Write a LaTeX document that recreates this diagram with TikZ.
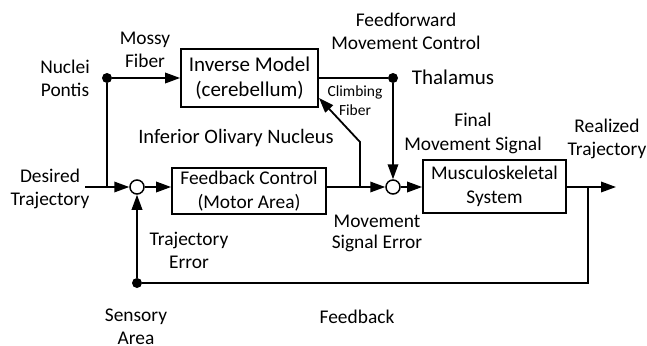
\documentclass[tikz,border=0pt]{standalone}
\usepackage{fontspec}
\setmainfont{Carlito}
\usetikzlibrary{arrows.meta}
\begin{document}
\begin{tikzpicture}[x=1pt,y=-1pt,
  box/.style={draw, line width=1.8pt, align=center, inner sep=0pt, font=\fontsize{19.4}{24}\selectfont},
  lbl/.style={align=center, inner sep=0pt, font=\fontsize{19.4}{23}\selectfont},
  biglbl/.style={align=center, inner sep=0pt, font=\fontsize{21}{24}\selectfont},
  smalllbl/.style={align=center, inner sep=0pt, font=\fontsize{15.5}{19}\selectfont},
  sumnode/.style={draw, circle, line width=1.5pt, minimum size=14pt, inner sep=0pt, fill=white},
  dotnode/.style={circle, fill, minimum size=10pt, inner sep=0pt},
  wire/.style={line width=1.8pt},
  arr/.style={wire, -{Triangle[length=15pt,width=10.5pt]}},
]
\useasboundingbox (0,0) rectangle (647,345);

% boxes
\node[box, minimum width=137pt, minimum height=58pt, font=\fontsize{21}{25}\selectfont] (im) at (249.5,78) {Inverse Model\\(cerebellum)};
\node[box, minimum width=154pt, minimum height=46pt] (fb) at (249,191) {Feedback Control\\(Motor Area)};
\node[box, minimum width=143pt, minimum height=53pt] (ms) at (494.5,186.5) {Musculoskeletal\\System};

% junctions and dots
\node[sumnode] (s1) at (137,187) {};
\node[sumnode] (s2) at (393,187) {};
\node[dotnode] (np) at (107,78) {};
\node[dotnode] (th) at (393,78) {};
\node[dotnode] (sa) at (137,283) {};

\coordinate (din) at (85,187);
\coordinate (jn) at (107,187);
\coordinate (cfb) at (360,187);
\coordinate (cfk) at (360,142);
\coordinate (cft) at (319,98);
\coordinate (out) at (616,187);
\coordinate (fbb) at (588,187);
\coordinate (fbc) at (588,283);

% labels
\node[lbl] (lmossy) at (145,50) {Mossy\\Fiber};
\node[lbl] (lnp) at (65,78) {Nuclei\\Pontis};
\node[lbl] (ldes) at (50,188.5) {Desired\\Trajectory};
\node[biglbl, font=\fontsize{20.5}{24}\selectfont] (lion) at (236,138) {Inferior Olivary Nucleus};
\node[lbl] (lff) at (406,31) {Feedforward\\Movement Control};
\node[biglbl] (lth) at (453,77) {Thalamus};
\node[smalllbl] (lcf) at (355,100.5) {Climbing\\Fiber};
\node[lbl, font=\fontsize{19.4}{24}\selectfont] (lfin) at (473,133) {Final\\Movement Signal};
\node[lbl] (lreal) at (607,138.5) {Realized\\Trajectory};
\node[lbl, font=\fontsize{19.4}{21}\selectfont] (lmse) at (377,233) {Movement\\Signal Error};
\node[lbl] (lte) at (189,250) {Trajectory\\Error};
\node[lbl] (lsa) at (136,327) {Sensory\\Area};
\node[lbl] (lfbk) at (357,317) {Feedback};

% connectors
\draw[arr] (np) -- (np -| im.west);
\draw[wire] (np) -- (jn);
\draw[arr] (din) -- (s1.west);
\draw[arr] (s1.east) -- (s1.east -| fb.west);
\draw[arr] (fb.east |- s2) -- (s2.west);
\draw[arr] (cfb) -- (cfk) -- (cft);
\draw[wire] (im.east |- th) -- (th);
\draw[arr] (th) -- (s2.north);
\draw[arr] (s2.east) -- (s2.east -| ms.west);
\draw[arr] (ms.east |- out) -- (out);
\draw[wire] (fbb) -- (fbc) -- (sa);
\draw[arr] (sa) -- (s1.south);
\end{tikzpicture}
\end{document}
